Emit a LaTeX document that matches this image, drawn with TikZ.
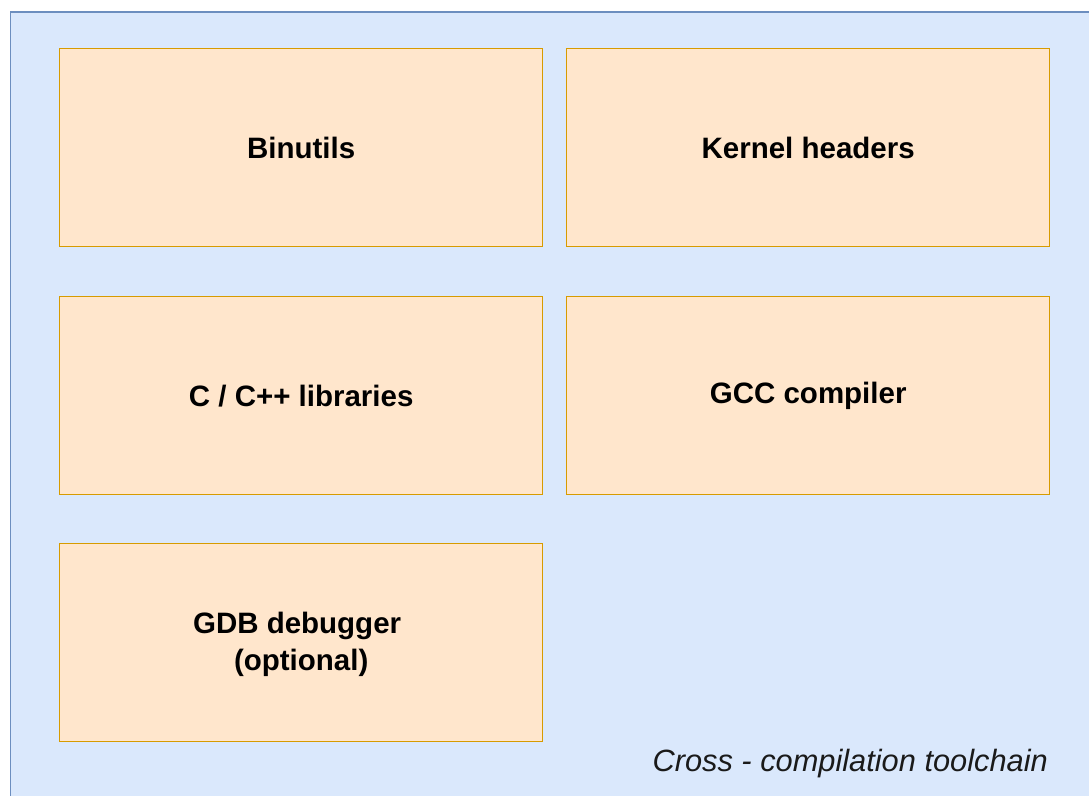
\documentclass[tikz,border=0pt]{standalone}
\usepackage{fontspec}
\setmainfont{Liberation Sans}
\definecolor{outerfill}{HTML}{DAE8FC}
\definecolor{outerdraw}{HTML}{6C8EBF}
\definecolor{boxfill}{HTML}{FFE6CC}
\definecolor{boxdraw}{HTML}{D79B00}
\definecolor{txt}{HTML}{1A1A1A}
\begin{document}
\begin{tikzpicture}[x=1bp,y=-1bp,
  compbox/.style={draw=boxdraw,fill=boxfill,line width=1.4bp,minimum width=483bp,minimum height=198bp,inner sep=0pt,align=center,font=\fontsize{29.6}{36.5}\selectfont\bfseries,text=black,anchor=north west},
  outerbox/.style={draw=outerdraw,fill=outerfill,line width=1.6bp}]
\useasboundingbox (0,0) rectangle (1089,796);
\clip (0,0) rectangle (1089,796);
\node[outerbox,minimum width=1100bp,minimum height=800bp,anchor=north west,inner sep=0pt] (toolchain) at (9.5,11.5) {};
\node[compbox] (binutils) at (59,48) {Binutils};
\node[compbox] (kernel) at (566,48) {Kernel headers};
\node[compbox] (libs) at (59,296) {C / C++ libraries};
\node[compbox] (gcc) at (566,296) {GCC compiler};
\node[compbox] (gdb) at (59,543) {};
\node[align=center,inner sep=0pt,font=\fontsize{29.6}{36.5}\selectfont\bfseries] (gdbtext) at ([yshift=-1.5bp]gdb.center) {GDB debugger\hspace*{8.2bp}\\(optional)};
\node[anchor=east,inner sep=0pt,font=\fontsize{30.9}{36}\selectfont\itshape,text=txt] (label) at (1048,763.5) {Cross - compilation toolchain};
\end{tikzpicture}
\end{document}
